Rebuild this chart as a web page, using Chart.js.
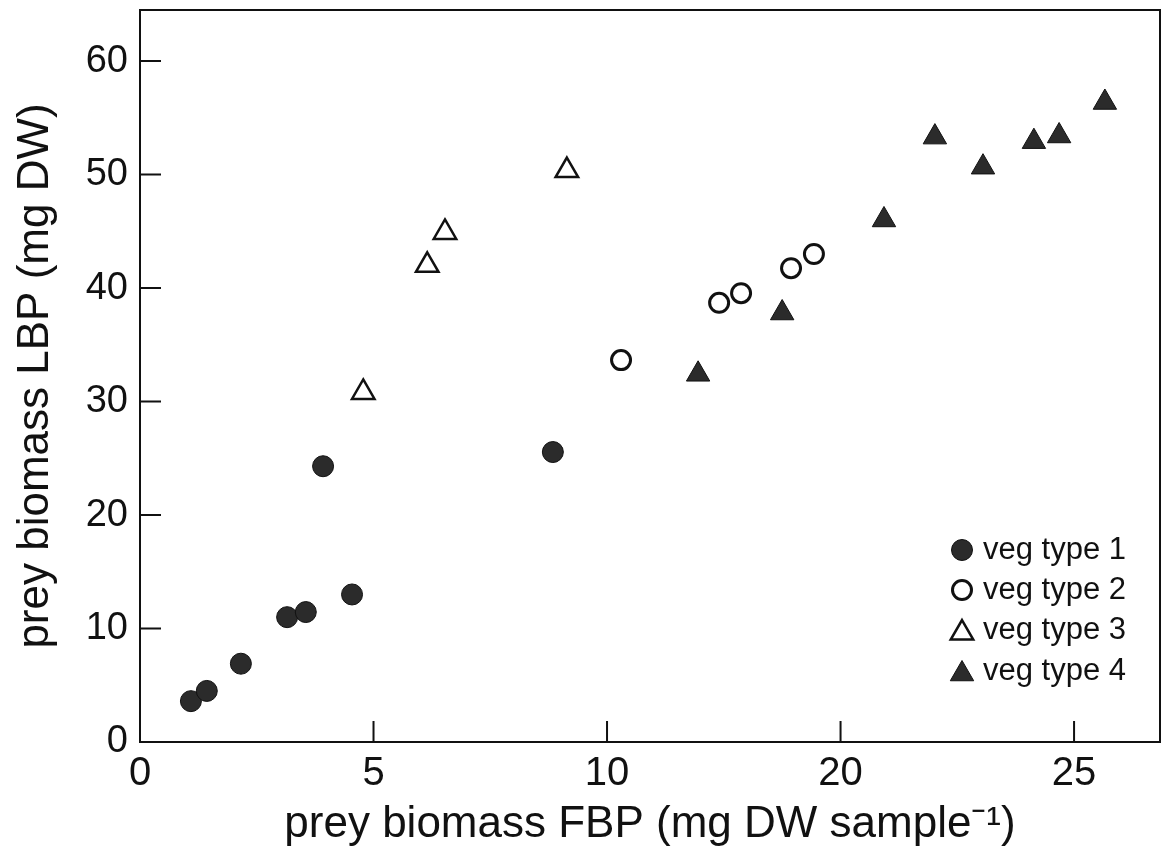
<!DOCTYPE html>
<html>
<head>
<meta charset="utf-8">
<title>prey biomass LBP vs FBP</title>
<script src="https://cdn.jsdelivr.net/npm/chart.js@4.4.1/dist/chart.umd.min.js"></script>
<style>
    html, body { margin: 0; padding: 0; background: #fff; }
    canvas { display: block; }
</style>
</head>
<body>
<canvas id="chart" width="1163" height="856"></canvas>
<script>
// -------- DATA (x in axis units as drawn, labels below are as printed) --------
const seriesNames = ['veg type 1', 'veg type 2', 'veg type 3', 'veg type 4'];

const type1X = [1.09, 1.43, 2.16, 3.15, 3.55, 4.54, 3.92, 8.84];
const type1Y = [3.6, 4.5, 6.9, 11.0, 11.45, 13.0, 24.3, 25.55];

const type2X = [10.30, 12.40, 12.87, 13.94, 14.43];
const type2Y = [33.65, 38.7, 39.55, 41.75, 43.0];

const type3X = [4.78, 6.15, 6.53, 9.14];
const type3Y = [30.8, 42.0, 44.9, 50.35];

const type4X = [11.95, 13.75, 15.93, 17.02, 18.05, 19.14, 19.68, 20.66];
const type4Y = [32.4, 37.8, 46.0, 53.3, 50.65, 52.9, 53.4, 56.35];

const xTickLabels = ['0', '5', '10', '20', '25'];
const yTickValues = [0, 10, 20, 30, 40, 50, 60];

const FONT = '"Liberation Sans", Arial, Helvetica, sans-serif';
const INK = '#111';
const DARK = '#2b2b2b';

function pts(xs, ys) {
    return xs.map((x, i) => ({ x: x, y: ys[i] }));
}

// no extra room for half-labels at the ends of the axes
function noEdgePadding(scale) {
    scale.paddingTop = 0;
    scale.paddingBottom = 0;
    scale.paddingLeft = 0;
    scale.paddingRight = 0;
}

// inward ticks + full frame
const framePlugin = {
    id: 'frame',
    afterDatasetsDraw(chart) {
        const ctx = chart.ctx;
        const a = chart.chartArea;
        const xs = chart.scales.x, ys = chart.scales.y;
        ctx.save();
        ctx.strokeStyle = INK;
        ctx.lineWidth = 2;
        ctx.strokeRect(a.left, a.top, a.right - a.left, a.bottom - a.top);
        ctx.beginPath();
        xs.ticks.forEach(t => {
            const px = xs.getPixelForValue(t.value);
            ctx.moveTo(px, a.bottom);
            ctx.lineTo(px, a.bottom - 21);
        });
        ys.ticks.forEach(t => {
            const py = ys.getPixelForValue(t.value);
            ctx.moveTo(a.left, py);
            ctx.lineTo(a.left + 21, py);
        });
        ctx.stroke();
        ctx.restore();
    }
};

// legend box in the lower right of the plot
const legendPlugin = {
    id: 'innerLegend',
    afterDraw(chart) {
        const ctx = chart.ctx;
        const a = chart.chartArea;
        const symX = a.right - 198;
        const textX = a.right - 177;
        const rowY = [550, 590, 630, 671];
        ctx.save();
        chart.data.datasets.forEach((ds, i) => {
            const y = rowY[i];
            ctx.fillStyle = ds.backgroundColor;
            ctx.strokeStyle = ds.borderColor;
            ctx.lineWidth = ds.borderWidth;
            Chart.helpers.drawPoint(ctx, {
                pointStyle: ds.pointStyle,
                radius: ds.pointRadius,
                borderWidth: ds.borderWidth,
                rotation: 0
            }, symX, y + (ds.pointStyle === 'triangle' ? 3 : 0));
            ctx.fillStyle = INK;
            ctx.font = '31px ' + FONT;
            ctx.textAlign = 'left';
            ctx.textBaseline = 'middle';
            ctx.fillText(ds.label, textX, y);
        });
        ctx.restore();
    }
};

new Chart(document.getElementById('chart').getContext('2d'), {
    type: 'scatter',
    data: {
        datasets: [
            {
                label: seriesNames[0],
                data: pts(type1X, type1Y),
                pointStyle: 'circle',
                pointRadius: 10.5,
                backgroundColor: DARK,
                borderColor: INK,
                borderWidth: 1
            },
            {
                label: seriesNames[1],
                data: pts(type2X, type2Y),
                pointStyle: 'circle',
                pointRadius: 9.5,
                backgroundColor: '#fff',
                borderColor: INK,
                borderWidth: 3
            },
            {
                label: seriesNames[2],
                data: pts(type3X, type3Y),
                pointStyle: 'triangle',
                pointRadius: 13,
                backgroundColor: '#fff',
                borderColor: INK,
                borderWidth: 2.5
            },
            {
                label: seriesNames[3],
                data: pts(type4X, type4Y),
                pointStyle: 'triangle',
                pointRadius: 13.5,
                backgroundColor: DARK,
                borderColor: INK,
                borderWidth: 1
            }
        ]
    },
    options: {
        responsive: false,
        animation: false,
        layout: { autoPadding: false, padding: { top: 10, right: 3, left: 0, bottom: 0 } },
        plugins: {
            legend: { display: false },
            tooltip: { enabled: false }
        },
        scales: {
            x: {
                type: 'linear',
                min: 0,
                max: 21.84,
                afterFit(scale) { scale.height = 114; noEdgePadding(scale); },
                grid: { display: false, drawTicks: false },
                border: { display: true, color: INK, width: 2 },
                ticks: {
                    stepSize: 5,
                    includeBounds: false,
                    padding: 8,
                    color: INK,
                    font: { family: FONT, size: 40 },
                    callback: v => xTickLabels[Math.round(v / 5)]
                },
                title: {
                    display: true,
                    text: 'prey biomass FBP (mg DW sample\u207B\u00B9)',
                    color: INK,
                    font: { family: FONT, size: 44 },
                    padding: { top: 0, bottom: 5 }
                }
            },
            y: {
                type: 'linear',
                min: 0,
                max: 64.5,
                afterFit(scale) { scale.width = 140; noEdgePadding(scale); },
                afterBuildTicks(scale) { scale.ticks = yTickValues.map(v => ({ value: v })); },
                grid: { display: false, drawTicks: false },
                border: { display: true, color: INK, width: 2 },
                ticks: {
                    padding: 12,
                    color: INK,
                    font: { family: FONT, size: 38 }
                },
                title: {
                    display: true,
                    text: 'prey biomass LBP (mg DW)',
                    color: INK,
                    font: { family: FONT, size: 44 },
                    padding: { top: 9, bottom: 0 }
                }
            }
        }
    },
    plugins: [framePlugin, legendPlugin]
});
</script>
</body>
</html>
